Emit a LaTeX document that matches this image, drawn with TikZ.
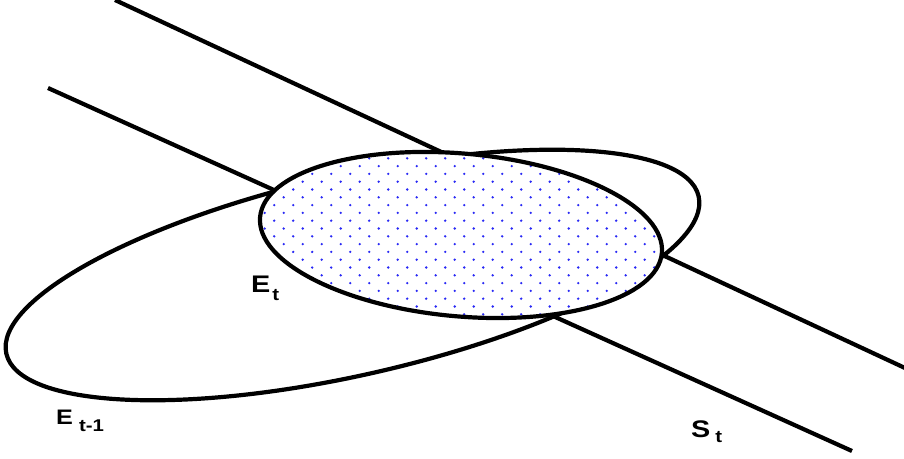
\documentclass[tikz,border=0pt]{standalone}
\usepackage{fontspec}
\setmainfont{Liberation Sans}
\newfontfamily\lblfont[FakeStretch=1.2]{Liberation Sans}
\usepackage{tikz}
\definecolor{bleuPoint}{RGB}{40,40,245}

\begin{document}
\begin{tikzpicture}[x=1pt,y=1pt,
  trait/.style={line width=4.2pt},
  lbl/.style={font=\lblfont\bfseries\fontsize{24}{24}\selectfont,inner sep=0pt,anchor=base west}]
  \useasboundingbox (0,0) rectangle (904,-458);

  % Points de reference
  \coordinate (Ct) at (461,-235);
  \coordinate (Cp) at (352.5,-275);
  \coordinate (L1a) at (115,0);
  \coordinate (L1b) at (905,-368);
  \coordinate (L2a) at (48,-88);
  \coordinate (L2b) at (852,-451);

  % Bande S_t
  \draw[trait] (L1a)--(L1b);
  \draw[trait] (L2a)--(L2b);

  % Ellipsoide E_{t-1}
  \draw[trait,rotate around={12.8:(Cp)}] (Cp) ellipse [x radius=355pt, y radius=100pt];

  % Ellipsoide E_t (pointille)
  \fill[white,rotate around={-5.1:(Ct)}] (Ct) ellipse [x radius=201.7pt, y radius=81.4pt];
  \begin{scope}
    \clip[rotate around={-5.1:(Ct)}] (Ct) ellipse [x radius=201.7pt, y radius=81.4pt];
    \foreach \k in {0,...,22}
      \foreach \m in {13,...,35}
        \fill[bleuPoint] ({17.7+19*\m-9.5*mod(\k,2)},{-(150.5+7.8*\k)}) circle (1.3pt);
  \end{scope}
  \draw[trait,rotate around={-5.1:(Ct)}] (Ct) ellipse [x radius=201.7pt, y radius=81.4pt];

  % Etiquettes
  \node[lbl] (Et) at (251,-292) {E\kern2pt\lower8pt\hbox{\fontsize{17}{17}\selectfont t}};
  \node[lbl,font=\lblfont\bfseries\fontsize{21}{21}\selectfont] (Ep) at (56,-424)
    {E\kern6pt\lower7pt\hbox{\fontsize{17}{17}\selectfont t-1}};
  \node[lbl] (St) at (691,-437) {S\kern5pt\lower5pt\hbox{\fontsize{17}{17}\selectfont t}};
\end{tikzpicture}
\end{document}
